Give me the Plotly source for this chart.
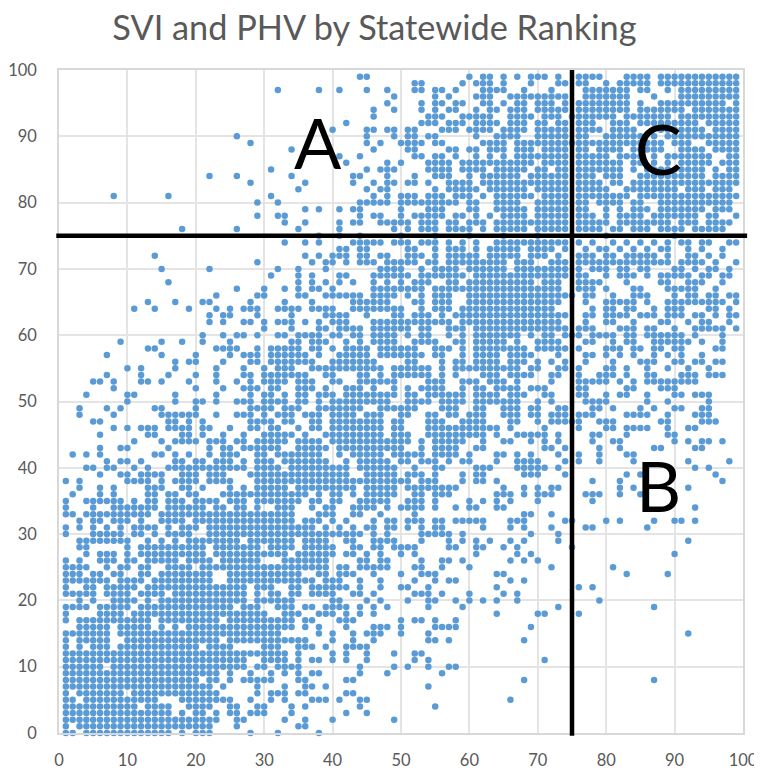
import plotly.graph_objects as go

# PHV rank (y) : SVI ranks (x), a-b means every rank from a to b
rows_low = """
0: 1 2 4-16 18 20-22 28 32 38
1: 1 3-22 26 35 36
2: 1-23 26 27 33 36 40 49
3: 1-16 18 20 21 23 25 26 28-30 34 42 45
4: 1-11 13-16 19-22 25 26 29 30 34 36 44 55
5: 1 2 4-14 18-25 28 31 33 37-39 41 44 45 66
6: 1 3-9 11-23 29 31-33 35 36 42 43
7: 1-22 24 29 33 36 37 39 54
8: 1-20 22 23 25 27-31 35 36 42 43 68 87
9: 1-23 25 28 31 33 35 37 38 44 48 56
10: 1-6 8-27 29 30 32-35 44 49 51 54 57 58
11: 1-27 30-33 35 37 38 40 42 45 52 54 71
12: 1-33 35 40 42 45 49 52 53
13: 1 3 5-7 9-20 22-25 30-32 35-37 39 42-45
14: 1 3-7 10-23 25-36 40 43 46 54 55 57 68
15: 1-7 9-32 38 40 43 45-47 50 54 92
16: 3-7 9-13 15 17 19-34 36 38 42 46-48 50 55-58 69
17: 1 3-13 15-23 25-34 36 37 41-43 50 52 53 55 58
18: 1 6-9 11-30 33-35 38-40 42 44 46 64 70 71 76
19: 1-4 6-10 12-25 27-29 32-34 36 37 39-42 44 46 48 54 59 73 87
20: 3 5 8-11 13 15-27 29-34 40 41 45 47 51 54 55 58 60 62 64 67 79
21: 1-5 7-10 12-15 17-27 29 31 32 34 35 37-40 43 44 46 52-54 56 60 65 67
22: 1 4 5 7-11 13-27 29-31 34 35 37-42 44 47 50 51 54 64 76 78
23: 1-7 9-12 14-22 25-37 39-41 44 47 52 55 57 58 66 68
24: 1-3 5 6 8 9 12 13 15-22 25-35 38 39 41-43 46 50 53-55 64 65 83 89
25: 1-4 7 9 10 12 13 16-19 21-39 41 42 44-48 52 53 56 60 72 81
26: 1 3 6-8 10 11 13-17 19-22 24-29 33-39 44 45 47 48 53 56 57 59 66 68 70
27: 4 6-8 10 12-21 23-33 35-40 42 43 45 47 50 52 61 67 69 90
28: 3 4 10 12-21 23-29 31-34 36-40 43 44 46 47 49-52 57 58 61 62 65 67 75
29: 3-10 13 15 17 19-26 28-34 36-39 42 43 46-49 53 57 59 61 63 66 68 73 92
30: 1 5-9 11 12 14 16-19 22-44 46 48 53-57 59 69 73
31: 1 3 5 7 9 11-14 16 18-20 22-37 39 41 43 45 46 48 49 51 53 55 56 62 66 68 72 77 78 86
32: 3 5 6 8-10 12 15-18 20-34 36-38 40 42 46 48 49 51-53 55 56 58-62 66-68 74 75 80 82 87 90 91 93
"""

rows_mid = """
33: 1 2 4-13 15-34 38-40 43 44 47 52 68 69 72
34: 1 5 8-14 16-21 23 24 26 27 29 32-34 37 39 40 43-46 48 50-53 55 58 60 61 64 65 93
35: 1 4-9 11 13 14 16-18 20-23 25-27 29-35 37 38 40 41 44-48 51-53 55 60 62 64 66 70 78
36: 2 6 8 13 14 16 17 19 20 24-36 38 40 41 43 45-49 52 53 55-57 64-66 68 70-72 77-79 82 85
37: 3 6 8 13-15 18 19 21 25 27 29-33 35-43 45-49 51-58 65 68 70 72 73 82 84 92
38: 1 3 10-13 15 17-20 22-25 29-51 53-55 59 61 62 64 78 82 97
39: 6 9 10 12-15 18-20 22-24 28-42 45-49 51-53 55 59 61 62 68-70 74 83 85 96
40: 4 5 7 8 11 13 16-27 29-32 34-42 44-49 52 55 56 61-63 67-71 73 93 95
41: 7 9 10 12 17 18 20 21 23-25 27 29-31 33-39 42 44-48 50 51 53-55 57 59 60 64 67-70 74 76 79 84 92 98
42: 2 4 6 14 15 17 19 22 24-26 29 30 32-38 41 43-47 49-53 55-58 60 64 65 67 69 73 76 79 83 84
43: 6 9 10 16 22 24 25 27-32 35-39 41-50 53 55-58 61 62 71 72 74 79 82 87 88 93 94
44: 11 15 17-20 22-24 26 27 29-33 35-38 40-51 53 55-59 62 65 66 69 71 73 78 81 82 90 92 94 95 97
45: 6 13 14 18 19 21 24 27 30-34 36 39-47 49-51 54-62 64 67-71 73 78 79 83 89 90
46: 8 10 12-14 16-19 21 22 25 28 29 31 32 35 37 38 40-47 49 50 54-64 66 71 76 80 81 83-86 89 92 93
47: 5 6 16 17 19 21 28-31 33 34 37 38 40-47 49 50 54-56 59-62 66 67 70 72-76 79-81 88 89 94-96
48: 3 8 15-20 23 26-28 30 32-34 36-38 40-43 45-47 50 51 54 55 57 58 60-62 65-67 69 70 72-74 76-78 83-86 89 93-95
49: 3 7 9 14 15 20 28-31 33-35 38-44 47-52 56-58 61 62 65-67 69 70 73 74 78 79 81 85 87 90 91 94 95
50: 10 17 20 21 23 26-28 30-33 35 36 38 40-48 51-54 56-59 61-67 70 72 77-80 86 89 95
51: 4 10 11 17 23 28 30 31 33 35 36 38-40 42-49 51 52 54-59 61-64 66-68 71 72 76 77 80 82 83 86 90 91 93-95
52: 8 20 24 27-29 31 32 35-37 39 42-44 46 49 51 53-56 59 61 62 64-67 69-71 76 77 83 84 88-90
53: 5 6 8 12 13 15 19 23 26 28 30-33 35-37 40 41 44-49 54-56 59-61 63-65 67 72 76-80 82 84 86-93
54: 7 12 16 20 23 27 28 30-36 39 40 44 45 47 49-54 56 58 62-64 66-69 72 73 76 79-81 83 86 87 91-93 95-97
55: 10 12 17 23 27 30 32-34 37-47 49-54 56 58-67 69 70 73 74 76 80 81 83 86 89 92 95
56: 17 19 20 24 28 29 31-37 40-46 51 52 56 58 59 61-64 66-68 70 72 74 77 81 85-87 90 91 93 94 96 97
57: 7 15 20 25 27-29 31-36 38 41-45 47-53 55 56 59 61-64 66-69 73 77 78 80 82 84 87 89 91 94
58: 13 14 23-26 29 31-35 37 38 40 42-45 47-52 55-57 59 61-68 70-74 76 80-82 84 85 87 88 90 91 96 97
59: 9 15 18 21 25 34 35 37-39 42 44 46-49 52-55 58 59 61-65 67 70-73 77 78 81 83 84 87-92 94 97
60: 21 24 26 27 29 32 33 35-38 40 41 43 44 46-49 51 53 54 57 59 61-67 69 71 72 74-76 78-81 83 84 86-91 93 97
61: 30 34 38 39 41-44 46-51 53 54 57-59 61-74 76-78 82-84 86 87 90 93-97 99
62: 22 24 27 28 30 32-34 36 38 40-42 46-57 59-73 77 80 81 84 88 89 92 94 95 98
63: 22 24 25 29 34 39-42 45 49 50 52-54 56 58-74 77 78 80-83 85-87 89-91 93 94 96 98 99
64: 11 14 19 23 25 27-29 32-35 37-40 43-50 53 55-57 59-72 78 80 81 83 84 87 89-91 95 96 98
65: 13 17 21 22 28 33 37 43-48 52 53 55-57 60-73 77 80-84 86 89-97 99
66: 23 29 30 35 36 39-44 46-49 51 53 55-57 60-75 77 78 81 84-86 90 92 93 95 96 98 99
"""

rows_high = """
67: 26 30 33 35 37 38 40 46-53 55-73 76-78 80 84 85 89-93 96
68: 16 35 37 39 41 43 46 48 50 52-54 57 58 60-69 71-73 76-79 83 88 89 92-94 97
69: 31 35 37 41 42 46-51 53-59 61-74 76 77 80 82-84 86 88-92 94 95 97 98
70: 15 22 32 35 39 47-50 53 55-58 60-65 67-74 76 78-80 82 83 85 86 90 91 93 95 96 98
71: 29 37 39 40 42 44-46 48-52 54 55 57-65 67-69 72-74 76-89 91-94 96 99
72: 14 36 38 40-42 44 45 47 48 51-53 55 57-61 63-67 69-71 73 76-78 80 81 83-87 89 92 93 95 97
73: 41 42 44 45 51 52 55 57-59 61 63-67 69-72 74 77 79 80 82 84 86 88 89 92 94 97
74: 33 36 38 43-47 49-51 53-55 57 59 61 64-74 76 78 81 83 85 87 89 91 92 94 95 98 99
75: 38 41 44 50 55 60 65 70 80 90
76: 18 26 35 41 49 51 53-55 57-60 62 64-68 70-74 76-79 81 82 84-86 88-91 93-97
77: 33 36 41 43 44 47-51 53-55 57 58 60-62 64-74 76-80 82-89 91-93 95-98
78: 29 32 33 44 46 47 50 52-56 58 59 61 63 65-68 70-74 76-78 80 82-85 87-93 95 96 99
79: 36 38 41 43 44 50 54-56 60 61 64-68 70-74 76 77 80 82 84-86 88-94 96-98
80: 29 32 44-48 50-58 60 61 64-67 70-74 76 77 79-82 84 85 88-98
81: 8 16 31 46 48 50-52 54-56 58-60 62 64-69 71-74 76-83 85-99
82: 35 45 47 48 55 57-61 63-68 70-74 76-80 83-90 92-94 96-98
83: 28 36 43 46 48 49 51 52 54 57-60 62-74 76-79 81 82 84-99
84: 22 26 34 43 44 48 52 55-57 60 62-67 69-74 76-78 80-82 85-94 96-99
85: 31 45 47-49 54-57 59-62 64-68 70 71 73 74 76-82 84 86-94 96 98 99
86: 42 48 50 54-57 59-69 71-74 76-82 84 85 87 89 91-95 97-99
87: 41 44 52 53 55 56 58 61 63 65 67-74 76-80 82-85 87 89-95 98 99
88: 34 46 51 52 57 58 60 61 63-65 67-69 71-74 76 77 79-82 84-88 91-94 96-99
89: 28 45 47 50-53 55 56 62-65 67-88 90-92 95-99
90: 26 45 49 51 52 54 55 61 64-67 70-74 76 77 80-85 87 89-99
91: 40 45 46 48 49 51 52 56-58 60-63 65-68 70-74 76-79 81-84 88-94 96-99
92: 42 53-55 57-59 61-64 66-68 70 71 73 74 76-78 81-83 85-93 95-99
93: 46 54-56 59-63 66-69 71-73 75-81 83-89 91-99
94: 46 49 53 55 57 58 61 63 64 66-68 70-74 76-83 85-91 93-99
95: 48 53 55 56 58 59 62 63 65 67 68 70-72 74 76-83 85 88-97 99
96: 49 55 57 61-63 66-74 77-83 87 91-99
97: 32 38 41 45 48 52 53 55 56 58 62-65 68 72 77-83 85 86 89 91-99
98: 52 53 59 61-63 65 69 73 74 76 77 80 82-86 88-99
99: 44 45 60 62 63 65 67 69-71 73 76-79 83-86 88-99
"""

tick_vals = [0, 10, 20, 30, 40, 50, 60, 70, 80, 90, 100]
cutoff = 75
zones = [("A", 37.9, 89.2), ("B", 87.6, 37.4), ("C", 87.7, 88.3)]


def read_rows(text):
    xs, ys = [], []
    for line in text.split("\n"):
        if not line.strip():
            continue
        y, ranks = line.split(":")
        seen = set()
        for token in ranks.split():
            if "-" in token:
                a, b = token.split("-")
                seen.update(range(int(a), int(b) + 1))
            else:
                seen.add(int(token))
        for x in sorted(seen):
            xs.append(x)
            ys.append(int(y))
    return xs, ys


svi, phv = read_rows(rows_low + rows_mid + rows_high)

fig = go.Figure()
fig.add_trace(go.Scatter(x=svi, y=phv, mode="markers", cliponaxis=False,
                         marker=dict(color="#5b9bd5", size=6.5, line=dict(width=0)),
                         hoverinfo="skip"))

# the two cut-off lines run a little past the plot area
fig.add_shape(type="line", xref="paper", yref="y", x0=-0.004, x1=1.006, y0=cutoff, y1=cutoff,
              line=dict(color="black", width=4.5))
fig.add_shape(type="line", xref="x", yref="paper", x0=cutoff, x1=cutoff, y0=-0.004, y1=1.0,
              line=dict(color="black", width=4.5))

for label, x, y in zones:
    fig.add_annotation(x=x, y=y, text=label, showarrow=False,
                       font=dict(family="Lato", size=70, color="black"))

axis = dict(range=[0, 100], tickvals=tick_vals, showgrid=True, gridcolor="#e4e4e4",
            gridwidth=1.5, showline=True, linecolor="#d8d8d8", linewidth=1.5, mirror=True,
            zeroline=False, ticks="outside", tickcolor="rgba(0,0,0,0)",
            tickfont=dict(family="Lato", size=16.5, color="#595959"))
fig.update_xaxes(ticklen=11, **axis)
fig.update_yaxes(ticklen=17, **axis)

# the page adds an 8px body margin, so the figure is drawn 8px smaller than the window
fig.update_layout(
    width=754, height=764, showlegend=False,
    paper_bgcolor="white", plot_bgcolor="white",
    margin=dict(l=51, r=19, t=62, b=39, autoexpand=False),
    title=dict(text="SVI and PHV by Statewide Ranking", x=0.486, y=0.974, xanchor="center", yanchor="middle",
               font=dict(family="Lato", size=34.3, color="#595959")),
)

fig.write_html("out.html")
